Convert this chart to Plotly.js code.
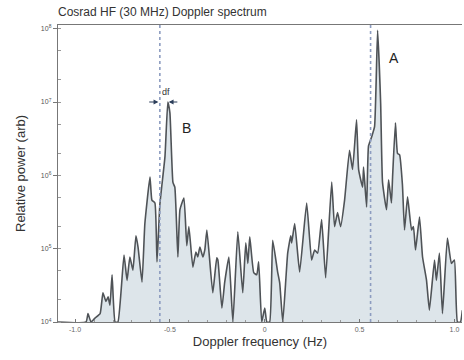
<!DOCTYPE html>
<html>
<head>
<meta charset="utf-8">
<script src="https://cdn.plot.ly/plotly-3.0.1.min.js"></script>
<style>html,body{margin:0;padding:0;background:#fff;}#chart{width:464px;height:360px;}</style>
</head>
<body>
<div id="chart"></div>
<script>
// Doppler frequency (Hz)
const freq = [-1.09,-0.942,-0.932,-0.916,-0.895,-0.868,-0.853,-0.837,-0.826,-0.816,-0.805,-0.789,-0.774,-0.742,-0.726,-0.711,-0.695,-0.679,-0.668,-0.647,-0.632,-0.605,-0.595,-0.579,-0.568,-0.553,-0.526,-0.511,-0.500,-0.484,-0.474,-0.458,-0.447,-0.426,-0.411,-0.400,-0.379,-0.363,-0.353,-0.342,-0.326,-0.316,-0.305,-0.274,-0.253,-0.247,-0.226,-0.211,-0.189,-0.168,-0.142,-0.116,-0.100,-0.089,-0.079,-0.058,-0.042,-0.032,-0.016,0.0,0.011,0.026,0.042,0.068,0.079,0.095,0.121,0.137,0.142,0.158,0.184,0.221,0.247,0.263,0.279,0.300,0.321,0.353,0.368,0.384,0.400,0.421,0.447,0.463,0.484,0.495,0.516,0.521,0.537,0.547,0.563,0.579,0.595,0.611,0.621,0.642,0.653,0.668,0.674,0.689,0.700,0.711,0.726,0.737,0.753,0.774,0.784,0.795,0.816,0.832,0.853,0.868,0.895,0.905,0.921,0.937,0.963,0.984,1.0,1.016,1.032,1.042];
// Relative power (arb)
const power = [1e4,1e4,1.3e4,1e4,1.13e4,1.3e4,2.5e4,1.9e4,2.2e4,1.7e4,4.4e4,1e4,1e4,8.2e4,3.7e4,7.7e4,5.1e4,1.5e5,1.05e5,3.5e4,2.2e5,9.5e5,4.6e5,4.2e5,6.6e4,4.0e5,1.8e6,1.0e7,7.1e6,8e5,6.9e5,7.7e4,3.4e5,4.9e5,1.1e5,2.0e5,5.6e4,9e4,7.7e4,1.05e5,7.7e4,9.6e4,1.8e5,2.5e4,7.5e4,7e4,1.55e4,3.5e4,7.7e4,1e4,1.7e5,2.5e4,1.2e5,6.3e4,1.45e5,4.7e4,4.4e4,6.6e4,1e4,1.55e4,1e4,1e4,1.3e5,4.8e4,3.4e4,1e4,8.7e4,1.5e5,1.2e5,2.2e5,4.8e4,4.2e5,7e4,9.6e4,8.7e4,2.5e5,4e4,8.1e5,2e5,3.1e5,2e5,4.6e5,2.2e6,1.2e6,5.7e6,1.2e6,6.9e5,1.3e6,3.7e5,2.5e6,3.3e6,4.6e6,9.5e7,9.8e6,8e5,3.4e5,8.7e5,4.2e5,9.5e5,5.2e6,2e6,1.9e6,7.4e5,1.8e5,5.1e5,1.8e5,2e5,9.6e4,2.7e5,7.7e4,3.7e4,1.45e4,7e4,3.7e4,8.7e4,1.3e4,1.4e5,6.3e4,7e4,1e4,1e4,1.45e4];
const baseFreq = [-1.09, 1.042];
const basePower = [1e4, 1e4];
const markerLinesX = [-0.553, 0.558];
const xTickVals = [-1.0, -0.5, 0, 0.5, 1.0];
const xTickText = ['-1.0', '-0.5', '0', '0.5', '1.0'];
const yTickVals = [1e4, 1e5, 1e6, 1e7, 1e8];
const yTickText = ['10<sup>4</sup>', '10<sup>5</sup>', '10<sup>6</sup>', '10<sup>7</sup>', '10<sup>8</sup>'];

const traces = [
  {x: baseFreq, y: basePower, mode: 'lines', line: {width: 0, color: 'rgba(0,0,0,0)'}, hoverinfo: 'skip', showlegend: false},
  {x: freq, y: power, mode: 'lines', fill: 'tonexty', fillcolor: '#dde5ea',
   line: {color: '#4f5357', width: 1.6, shape: 'spline', smoothing: 0.4}, showlegend: false}
];

const shapes = markerLinesX.map(v => ({type: 'line', xref: 'x', yref: 'paper', x0: v, x1: v, y0: 0, y1: 1,
  line: {color: '#8d9cc0', width: 1.6, dash: 'dot'}}));

const annotations = [
  {x: 0.68, y: 7.6, xref: 'x', yref: 'y', text: 'A', showarrow: false, font: {size: 14, color: '#222'}},
  {x: -0.415, y: 6.65, xref: 'x', yref: 'y', text: 'B', showarrow: false, font: {size: 14, color: '#222'}},
  {x: -0.518, y: 7.13, xref: 'x', yref: 'y', text: 'df', showarrow: false, font: {size: 9, color: '#333'}},
  {x: -0.561, y: 7, ax: -0.625, ay: 7, xref: 'x', yref: 'y', axref: 'x', ayref: 'y', text: ' ', showarrow: true,
   arrowhead: 2, arrowsize: 0.8, arrowwidth: 1.2, arrowcolor: '#2c3e5a'},
  {x: -0.506, y: 7, ax: -0.445, ay: 7, xref: 'x', yref: 'y', axref: 'x', ayref: 'y', text: ' ', showarrow: true,
   arrowhead: 2, arrowsize: 0.8, arrowwidth: 1.2, arrowcolor: '#2c3e5a'}
];

const layout = {
  width: 464, height: 360,
  margin: {l: 58, r: 2, t: 25, b: 38},
  paper_bgcolor: '#fff', plot_bgcolor: '#fff',
  font: {family: '"Liberation Sans", Arial, sans-serif', color: '#333'},
  title: {text: 'Cosrad HF (30 MHz) Doppler spectrum', x: 0, xref: 'paper', xanchor: 'left',
          y: 0.966, yref: 'container', yanchor: 'middle', font: {size: 12, color: '#333'}},
  showlegend: false,
  xaxis: {range: [-1.09, 1.04], tickvals: xTickVals, ticktext: xTickText, showgrid: false, zeroline: false,
          showline: true, mirror: true, linecolor: '#777', linewidth: 1.2,
          ticks: 'inside', ticklen: 3, tickcolor: '#777', tickfont: {size: 7, color: '#666'},
          minor: {dtick: 0.1, ticks: 'inside', ticklen: 2, tickcolor: '#999'},
          title: {text: 'Doppler frequency (Hz)', font: {size: 13, color: '#333'}, standoff: 5}},
  yaxis: {type: 'log', range: [4, 8.05], tickvals: yTickVals, ticktext: yTickText, showgrid: false, zeroline: false,
          showline: true, linecolor: '#777', linewidth: 1.2,
          ticks: 'outside', ticklen: 4, tickcolor: '#777', tickfont: {size: 7, color: '#555'},
          minor: {dtick: 'D2', ticks: 'inside', ticklen: 3, tickcolor: '#999'},
          title: {text: 'Relative power (arb)', font: {size: 13, color: '#333'}, standoff: 12}},
  shapes: shapes,
  annotations: annotations
};

Plotly.newPlot('chart', traces, layout, {displayModeBar: false, staticPlot: true});
</script>
</body>
</html>
